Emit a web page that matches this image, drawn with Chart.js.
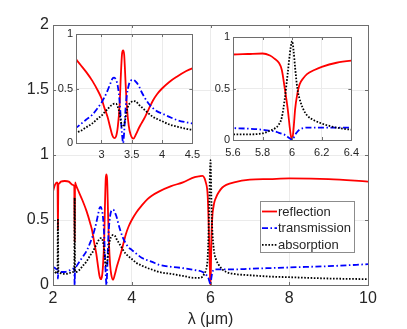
<!DOCTYPE html>
<html>
<head>
<meta charset="utf-8">
<script src="https://cdn.jsdelivr.net/npm/chart.js@4.4.1/dist/chart.umd.min.js"></script>
<style>
	html, body { margin: 0; padding: 0; background: #fff; }
	#wrap { position: relative; width: 407px; height: 329px; }
	canvas { position: absolute; }
</style>
</head>
<body>
<div id="wrap">
	<canvas id="main" width="407" height="329" style="left:0;top:0"></canvas>
	<canvas id="insetA" width="165" height="145" style="left:40px;top:24px"></canvas>
	<canvas id="insetB" width="165" height="145" style="left:200px;top:24px"></canvas>
</div>
<script>

//
// data
//

const lambda = [
	2.00, 2.05, 2.10, 2.115, 2.125, 2.135, 2.15, 2.20, 2.30, 2.40,
	2.50, 2.54, 2.55, 2.56, 2.58, 2.65, 2.75, 2.85, 2.95, 3.00,
	3.05, 3.10, 3.15, 3.18, 3.21, 3.24, 3.27, 3.30, 3.32, 3.34,
	3.357, 3.375, 3.40, 3.42, 3.45, 3.48, 3.526, 3.57, 3.62, 3.66,
	3.72, 3.78, 3.85, 3.92, 4.00, 4.12, 4.25, 4.40, 4.50, 4.70,
	5.00, 5.30, 5.60, 5.70, 5.80, 5.85, 5.88, 5.91, 5.93, 5.95,
	5.97, 5.99, 6.00, 6.01, 6.02, 6.035, 6.05, 6.075, 6.10, 6.15,
	6.20, 6.30, 6.40, 6.60, 7.00, 7.50, 8.00, 9.00, 10.00
];

const reflection = [
	0.72, 0.77, 0.79, 0.78, 0.43, 0.77, 0.78, 0.795, 0.80, 0.795,
	0.77, 0.76, 0.33, 0.79, 0.77, 0.72, 0.65, 0.57, 0.47, 0.41,
	0.32, 0.24, 0.13, 0.07, 0.045, 0.06, 0.15, 0.35, 0.62, 0.82,
	0.85, 0.81, 0.53, 0.33, 0.16, 0.08, 0.04, 0.08, 0.14, 0.18,
	0.24, 0.31, 0.39, 0.45, 0.50, 0.56, 0.61, 0.66, 0.685, 0.72,
	0.76, 0.79, 0.83, 0.835, 0.84, 0.82, 0.79, 0.75, 0.68, 0.50,
	0.30, 0.05, 0.00, 0.12, 0.30, 0.45, 0.54, 0.60, 0.64, 0.68,
	0.71, 0.75, 0.77, 0.79, 0.81, 0.815, 0.82, 0.815, 0.795
];

const transmission = [
	0.14, 0.13, 0.12, 0.12, 0.05, 0.11, 0.105, 0.10, 0.10, 0.11,
	0.125, 0.13, 0.00, 0.13, 0.14, 0.17, 0.215, 0.26, 0.33, 0.37,
	0.42, 0.48, 0.55, 0.59, 0.60, 0.58, 0.52, 0.38, 0.22, 0.08,
	0.00, 0.10, 0.33, 0.44, 0.53, 0.57, 0.58, 0.56, 0.52, 0.47,
	0.41, 0.36, 0.32, 0.29, 0.27, 0.24, 0.21, 0.19, 0.18, 0.155,
	0.14, 0.13, 0.115, 0.11, 0.10, 0.09, 0.085, 0.07, 0.06, 0.05,
	0.03, 0.01, 0.00, 0.02, 0.05, 0.08, 0.10, 0.115, 0.12, 0.12,
	0.12, 0.12, 0.12, 0.12, 0.125, 0.13, 0.135, 0.145, 0.16
];

const absorption = [
	0.12, 0.10, 0.09, 0.10, 0.51, 0.12, 0.10, 0.09, 0.085, 0.09,
	0.10, 0.11, 0.67, 0.10, 0.10, 0.11, 0.145, 0.18, 0.23, 0.25,
	0.28, 0.31, 0.34, 0.35, 0.36, 0.36, 0.33, 0.27, 0.20, 0.15,
	0.15, 0.17, 0.24, 0.30, 0.35, 0.37, 0.385, 0.38, 0.35, 0.33,
	0.30, 0.27, 0.24, 0.22, 0.20, 0.17, 0.15, 0.13, 0.12, 0.10,
	0.085, 0.07, 0.055, 0.055, 0.065, 0.09, 0.11, 0.15, 0.22, 0.40,
	0.65, 0.90, 0.96, 0.86, 0.70, 0.50, 0.40, 0.30, 0.24, 0.19,
	0.16, 0.12, 0.10, 0.085, 0.075, 0.065, 0.06, 0.05, 0.045
];

const seriesNames = ['reflection', 'transmission', 'absorption'];

const mainXTicks = [2, 4, 6, 8, 10];
const mainYTicks = [0, 0.5, 1, 1.5, 2];
const insetAXTicks = [3, 3.5, 4, 4.5];
const insetBXTicks = [5.6, 5.8, 6, 6.2, 6.4];
const insetYTicks = [0, 0.5, 1];

//
// styles
//

Chart.defaults.font.family = '"Liberation Sans", Arial, Helvetica, sans-serif';
Chart.defaults.color = '#262626';

const textColor = '#262626';
const gridColor = '#ebebeb';
const frameColor = '#6e6e6e';

function points(values) {
	return lambda.map((x, i) => ({x: x, y: values[i]}));
}

function makeDatasets() {
	const common = {
		pointRadius: 0,
		borderWidth: 1.8,
		fill: false,
		cubicInterpolationMode: 'monotone',
		borderCapStyle: 'butt'
	};
	return [
		Object.assign({}, common, {
			label: seriesNames[0],
			data: points(reflection),
			borderColor: '#ff0000',
			order: 3
		}),
		Object.assign({}, common, {
			label: seriesNames[1],
			data: points(transmission),
			borderColor: '#0000ff',
			borderDash: [6, 2.5, 1.5, 2.5],
			order: 2
		}),
		Object.assign({}, common, {
			label: seriesNames[2],
			data: points(absorption),
			borderColor: '#000000',
			borderDash: [1.6, 1.6],
			order: 1
		})
	];
}

function fmt(v) {
	return String(Math.round(v * 100) / 100);
}

function makeScale(ticks, min, max, fontSize, pad, extent, isX, title) {
	return {
		type: 'linear',
		min: min,
		max: max,
		afterBuildTicks: function(scale) {
			scale.ticks = ticks.map(v => ({value: v}));
		},
		afterFit: function(scale) {
			if (isX) {
				scale.height = extent;
			} else {
				scale.width = extent;
			}
		},
		grid: {
			color: gridColor,
			lineWidth: 1,
			drawTicks: false
		},
		border: {
			display: false
		},
		ticks: {
			padding: pad,
			color: textColor,
			font: {size: fontSize},
			maxRotation: 0,
			autoSkip: false,
			callback: v => fmt(v)
		},
		title: title ? {
			display: true,
			text: title,
			color: textColor,
			font: {size: 16},
			padding: {top: 0, bottom: 0}
		} : {display: false}
	};
}

// white plot area, box and inward ticks like the original
//
const framePlugin = {
	id: 'frame',
	beforeDraw: function(chart) {
		const a = chart.chartArea;
		const ctx = chart.ctx;
		ctx.save();
		ctx.fillStyle = '#ffffff';
		ctx.fillRect(a.left, a.top, a.right - a.left, a.bottom - a.top);
		ctx.restore();
	},
	afterDraw: function(chart) {
		const a = chart.chartArea;
		const ctx = chart.ctx;
		const x = chart.scales.x;
		const y = chart.scales.y;
		const len = 3;
		ctx.save();
		ctx.strokeStyle = frameColor;
		ctx.lineWidth = 1;
		ctx.beginPath();
		x.ticks.forEach(t => {
			let px = Math.round(x.getPixelForValue(t.value)) + 0.5;
			ctx.moveTo(px, a.bottom);
			ctx.lineTo(px, a.bottom - len);
			ctx.moveTo(px, a.top);
			ctx.lineTo(px, a.top + len);
		});
		y.ticks.forEach(t => {
			let py = Math.round(y.getPixelForValue(t.value)) + 0.5;
			ctx.moveTo(a.left, py);
			ctx.lineTo(a.left + len, py);
			ctx.moveTo(a.right, py);
			ctx.lineTo(a.right - len, py);
		});
		ctx.stroke();
		ctx.strokeRect(Math.round(a.left) + 0.5, Math.round(a.top) + 0.5,
			Math.round(a.right - a.left), Math.round(a.bottom - a.top));
		ctx.restore();
	}
};

// boxed legend inside the plot
//
const legendPlugin = {
	id: 'boxLegend',
	afterDraw: function(chart, args, opts) {
		const ctx = chart.ctx;
		const box = opts.box;
		ctx.save();
		ctx.fillStyle = '#ffffff';
		ctx.fillRect(box.x, box.y, box.w, box.h);
		ctx.strokeStyle = '#8c8c8c';
		ctx.lineWidth = 1;
		ctx.strokeRect(box.x + 0.5, box.y + 0.5, box.w, box.h);
		ctx.font = '13px "Liberation Sans", Arial, sans-serif';
		ctx.textBaseline = 'middle';
		ctx.fillStyle = textColor;
		chart.data.datasets.forEach((ds, i) => {
			let cy = box.y + 10.5 + i * 16.7;
			ctx.save();
			ctx.strokeStyle = ds.borderColor;
			ctx.lineWidth = ds.borderWidth;
			ctx.setLineDash(ds.borderDash || []);
			ctx.beginPath();
			ctx.moveTo(box.x + 2, cy);
			ctx.lineTo(box.x + 17, cy);
			ctx.stroke();
			ctx.restore();
			ctx.fillText(ds.label, box.x + 18, cy + 0.5);
		});
		ctx.restore();
	}
};

function makeChart(id, opts) {
	return new Chart(document.getElementById(id), {
		type: 'line',
		data: {datasets: makeDatasets()},
		options: {
			responsive: false,
			animation: false,
			devicePixelRatio: 1,
			layout: {padding: opts.padding},
			plugins: {
				legend: {display: false},
				tooltip: {enabled: false},
				boxLegend: opts.legend || false
			},
			scales: {
				x: opts.x,
				y: opts.y
			}
		},
		plugins: opts.plugins
	});
}

//
// main plot
//

makeChart('main', {
	padding: {left: 0, right: 39, top: 25, bottom: 0},
	x: makeScale(mainXTicks, 2, 10, 16, 4, 44, true, 'λ (μm)'),
	y: makeScale(mainYTicks, 0, 2, 16, 4, 53, false),
	legend: {box: {x: 260, y: 201, w: 94, h: 51}},
	plugins: [framePlugin, legendPlugin]
});

//
// insets
//

makeChart('insetA', {
	padding: {left: 0, right: 9, top: 10, bottom: 0},
	x: makeScale(insetAXTicks, 2.58, 4.5, 11, 5, 26, true),
	y: makeScale(insetYTicks, 0, 1, 11, 3, 36, false),
	plugins: [framePlugin]
});

makeChart('insetB', {
	padding: {left: 0, right: 12, top: 13, bottom: 0},
	x: makeScale(insetBXTicks, 5.6, 6.4, 11, 6, 29, true),
	y: makeScale(insetYTicks, 0, 1, 11, 3, 33, false),
	plugins: [framePlugin]
});
</script>
</body>
</html>
